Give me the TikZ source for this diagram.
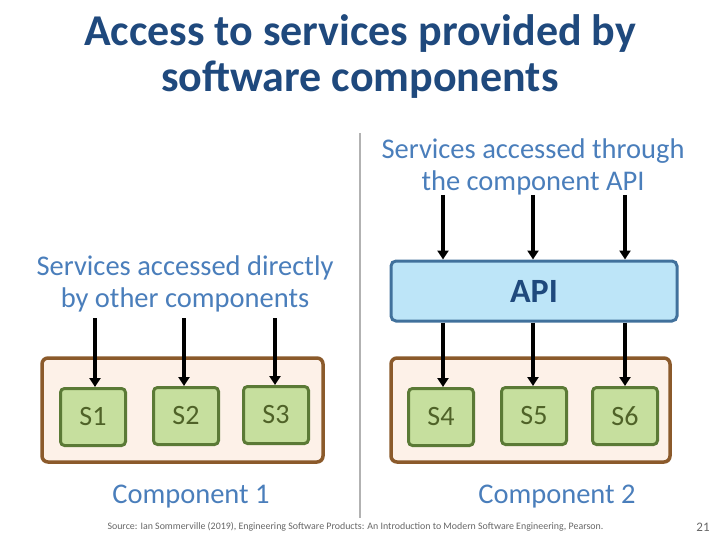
\documentclass[tikz,border=0pt]{standalone}
\usepackage{fontspec}
\setmainfont{Carlito}
\usetikzlibrary{arrows.meta}

\definecolor{titleblue}{HTML}{1F497D}
\definecolor{lblblue}{HTML}{4A7EBB}
\definecolor{compfill}{HTML}{FDF1E8}
\definecolor{compline}{HTML}{8B5A2B}
\definecolor{svcfill}{HTML}{C6DF9E}
\definecolor{svcline}{HTML}{5B7A36}
\definecolor{svctext}{HTML}{4F6228}
\definecolor{apifill}{HTML}{BDE5F8}
\definecolor{apiline}{HTML}{41719C}

\tikzset{
  compbox/.style={draw=compline, fill=compfill, line width=3.5pt, rounded corners=6pt},
  svcbox/.style={draw=svcline, fill=svcfill, line width=3pt, rounded corners=4pt,
    minimum width=65pt, minimum height=57pt, inner sep=0pt,
    text=svctext, font=\fontsize{28}{32}\selectfont},
  apibox/.style={draw=apiline, fill=apifill, line width=3pt, rounded corners=5pt,
    minimum width=286pt, minimum height=60pt, inner sep=0pt,
    text=titleblue, font=\fontsize{34}{40}\selectfont\bfseries},
  lbl/.style={text=lblblue, align=center, font=\fontsize{28.5}{32.5}\selectfont},
  callarrow/.style={line width=4pt, -{Triangle[length=9pt,width=11pt]}}
}

\begin{document}
\begin{tikzpicture}[x=1pt, y=-1pt]
    \useasboundingbox (0,0) rectangle (720,540);

    % Titolo
    \node[text=titleblue, align=center, font=\fontsize{44}{46}\selectfont\bfseries] (title) at (360,57)
        {Access to services provided by\\software components};

    % Divisore
    \draw[gray!60, line width=2pt] (360,133) -- (360,518);

    % Componente 1
    \draw[compbox] (42,358) rectangle (323,462);
    \node[svcbox] (s1) at (93,417) {S1};
    \node[svcbox] (s2) at (186,416) {S2};
    \node[svcbox] (s3) at (276,415) {S3};
    \node[lbl] (lblleft) at (185,284) {Services accessed directly\\by other components};
    \node[lbl] (comp1) at (191,497) {Component 1};

    % Componente 2
    \draw[compbox] (391,358) rectangle (670,462);
    \node[svcbox] (s4) at (441,417) {S4};
    \node[svcbox] (s5) at (534,416) {S5};
    \node[svcbox] (s6) at (625,416) {S6};
    \node[apibox] (api) at (534,291) {API};
    \node[lbl] (lblright) at (533,167) {Services accessed through\\the component API};
    \node[lbl] (comp2) at (557,497) {Component 2};

    % Frecce
    \coordinate (in1) at (95,318);
    \coordinate (in2) at (184,318);
    \coordinate (in3) at (275,318);
    \draw[callarrow] (in1) -- (in1 |- s1.north);
    \draw[callarrow] (in2) -- (in2 |- s2.north);
    \draw[callarrow] (in3) -- (in3 |- s3.north);
    \coordinate (in4) at (443,195);
    \coordinate (in5) at (533,195);
    \coordinate (in6) at (625,195);
    \draw[callarrow] (in4) -- (in4 |- api.north);
    \draw[callarrow] (in5) -- (in5 |- api.north);
    \draw[callarrow] (in6) -- (in6 |- api.north);
    \draw[callarrow] (in4 |- api.south) -- (in4 |- s4.north);
    \draw[callarrow] (in5 |- api.south) -- (in5 |- s5.north);
    \draw[callarrow] (in6 |- api.south) -- (in6 |- s6.north);

    % Fonte
    \node[anchor=west, text=gray!80!black, font=\fontsize{9.9}{12}\selectfont] (source) at (104,527)
        {Source: Ian Sommerville (2019), Engineering Software Products: An Introduction to Modern Software Engineering, Pearson.};
    \node[text=gray!80!black, font=\fontsize{13}{15}\selectfont] (pagenum) at (703,527) {21};
\end{tikzpicture}
\end{document}
